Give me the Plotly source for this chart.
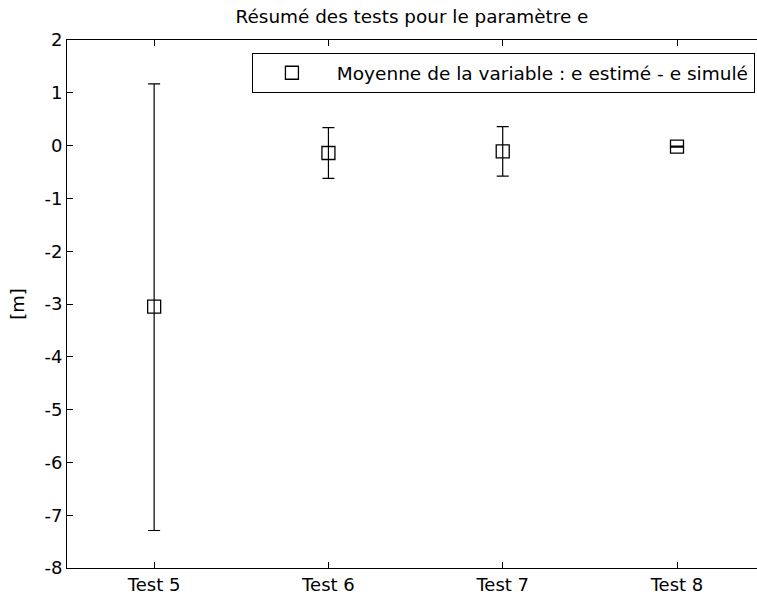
import plotly.graph_objects as go

# Data
categories = ["Test 5", "Test 6", "Test 7", "Test 8"]
x_pos = [1, 2, 3, 4]
means = [-3.05, -0.14, -0.11, -0.02]
err_plus = [4.22, 0.48, 0.47, 0.01]
err_minus = [4.24, 0.48, 0.47, 0.01]
y_ticks = [-8, -7, -6, -5, -4, -3, -2, -1, 0, 1, 2]
y_ticktext = ["-8", "-7", "-6", "-5", "-4", "-3", "-2", "-1", "0", "1", "2"]

FONT = "DejaVu Sans"

fig = go.Figure()
fig.add_trace(go.Scatter(
    x=x_pos, y=means, mode="markers",
    name="\u00a0Moyenne de la variable : e estimé - e simulé",
    marker=dict(symbol="square-open", size=13, color="black",
                line=dict(color="black", width=1.3)),
    error_y=dict(type="data", symmetric=False, array=err_plus,
                 arrayminus=err_minus, color="black", thickness=1.2, width=6),
))

fig.update_layout(
    width=757, height=603, autosize=False,
    margin=dict(l=67, r=0, t=40, b=35),
    plot_bgcolor="white", paper_bgcolor="white",
    font=dict(family=FONT, size=18, color="black"),
    title=dict(text="Résumé des tests pour le paramètre e",
               x=0.5, xref="paper", xanchor="center",
               y=1 - 17 / 603, yref="container", yanchor="middle",
               font=dict(family=FONT, size=18.4, color="black")),
    showlegend=True,
    legend=dict(x=0.997, xanchor="right", y=0.975, yanchor="top",
                bgcolor="white", bordercolor="black", borderwidth=1,
                font=dict(family=FONT, size=18.5, color="black"),
                itemwidth=68),
    xaxis=dict(range=[0.5, 4.459], tickmode="array", tickvals=x_pos,
               ticktext=categories, showgrid=False, zeroline=False,
               showline=True, linecolor="black", linewidth=1,
               mirror="ticks", ticks="inside", ticklen=6,
               tickcolor="black", tickfont=dict(size=18)),
    yaxis=dict(range=[-8, 2], tickmode="array", tickvals=y_ticks,
               ticktext=y_ticktext,
               showgrid=False, zeroline=False, showline=True,
               linecolor="black", linewidth=1, ticks="inside",
               ticklen=6, tickcolor="black", tickfont=dict(size=18),
               title=dict(text="[m]", standoff=15,
                          font=dict(size=18))),
)

fig.write_html(
    "out.html",
    config={"displayModeBar": False},
    post_script="document.body.style.margin='0';"
                "document.documentElement.style.overflow='hidden';"
                "document.body.style.overflow='hidden';",
)
